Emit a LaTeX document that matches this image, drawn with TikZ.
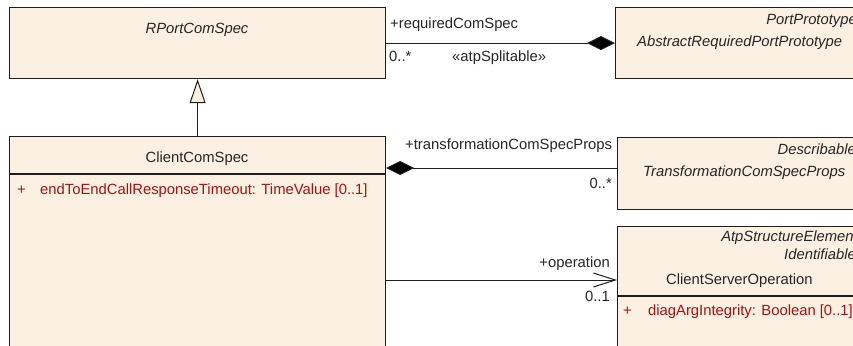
\documentclass[tikz,border=0pt]{standalone}
\usepackage{fontspec}
\setmainfont{Liberation Sans}
\usetikzlibrary{arrows.meta}
\definecolor{boxfill}{RGB}{251,240,225}
\definecolor{attrred}{RGB}{160,20,20}
\definecolor{edgecol}{RGB}{30,30,30}
\newcommand{\umlfont}{\fontsize{14.8}{17}\selectfont}
\begin{document}
\begin{tikzpicture}[x=1pt,y=-1pt,
  font=\umlfont,
  umlbox/.style={draw=edgecol, line width=1.2pt, fill=boxfill, anchor=north west, inner sep=0pt},
  lbl/.style={inner sep=0pt, anchor=base west, text=black!85},
  lblr/.style={inner sep=0pt, anchor=base east, text=black!85},
  lblc/.style={inner sep=0pt, anchor=base, text=black!85},
  ital/.style={font=\umlfont\itshape},
  attrtxt/.style={inner sep=0pt, anchor=base west, text=attrred},
  conn/.style={draw=edgecol, line width=1pt},
  compos/.style={conn, -{Diamond[length=28pt,width=14pt,fill=black]}},
  navig/.style={conn, -{Straight Barb[length=22pt,width=14pt,line width=1pt]}},
  general/.style={conn, -{Triangle[open,length=24pt,width=16pt,fill=boxfill,line width=1pt]}}
]
\clip (0,0) rectangle (853,345);
\fill[white] (0,0) rectangle (853,345);

% boxes
\node[umlbox, minimum width=376pt, minimum height=71pt] (rport) at (9,7) {};
\node[umlbox, minimum width=260pt, minimum height=71pt] (arpp) at (615,7) {};
\node[umlbox, minimum width=376pt, minimum height=230pt] (ccs) at (9,136) {};
\node[umlbox, minimum width=260pt, minimum height=72pt] (tcsp) at (617,137) {};
\node[umlbox, minimum width=260pt, minimum height=140pt] (cso) at (617,226) {};

% compartment separators
\draw[draw=edgecol, line width=1.2pt] ([yshift=-38pt]ccs.north west) -- ([yshift=-38pt]ccs.north east);
\draw[draw=edgecol, line width=1.2pt] ([yshift=-70pt]cso.north west) -- ([yshift=-70pt]cso.north east);

% box texts
\node[lblc, ital] (t1) at (197,34) {RPortComSpec};
\node[lblc] (t2) at (197,162) {ClientComSpec};
\node[attrtxt] (t3a) at (17,194) {+};
\node[attrtxt] (t3) at (40,194) {endToEndCallResponseTimeout: TimeValue [0..1]};
\node[lblr, ital] (t4) at (857,25) {PortPrototype};
\node[lbl, ital] (t5) at (637,46) {AbstractRequiredPortPrototype};
\node[lblr, ital] (t6) at (856,154) {Describable};
\node[lbl, ital] (t7) at (643,176) {TransformationComSpecProps};
\node[lblr, ital] (t8) at (858,241) {AtpStructureElement};
\node[lblr, ital] (t9) at (856,259) {Identifiable};
\node[lbl] (t10) at (666,284) {ClientServerOperation};
\node[attrtxt] (t11a) at (623,315) {+};
\node[attrtxt] (t11) at (648,315) {diagArgIntegrity: Boolean [0..1]};

% connectors
\coordinate (ya) at (0,168);
\coordinate (yb) at (0,280);
\draw[general] (ccs.north) -- (rport.south);
\draw[compos] (rport.east) -- (arpp.west);
\draw[compos] (tcsp.west |- ya) -- (ccs.east |- ya);
\draw[navig] (ccs.east |- yb) -- (cso.west |- yb);

% connector labels
\node[lbl] (l1) at (390,29) {+requiredComSpec};
\node[lbl] (l2) at (389,62) {0..*};
\node[lbl] (l3) at (452,62) {«atpSplitable»};
\node[lbl] (l4) at (405,149) {+transformationComSpecProps};
\node[lblr] (l5) at (612,188) {0..*};
\node[lblr] (l6) at (610,267) {+operation};
\node[lblr] (l7) at (610,301) {0..1};
\end{tikzpicture}
\end{document}
